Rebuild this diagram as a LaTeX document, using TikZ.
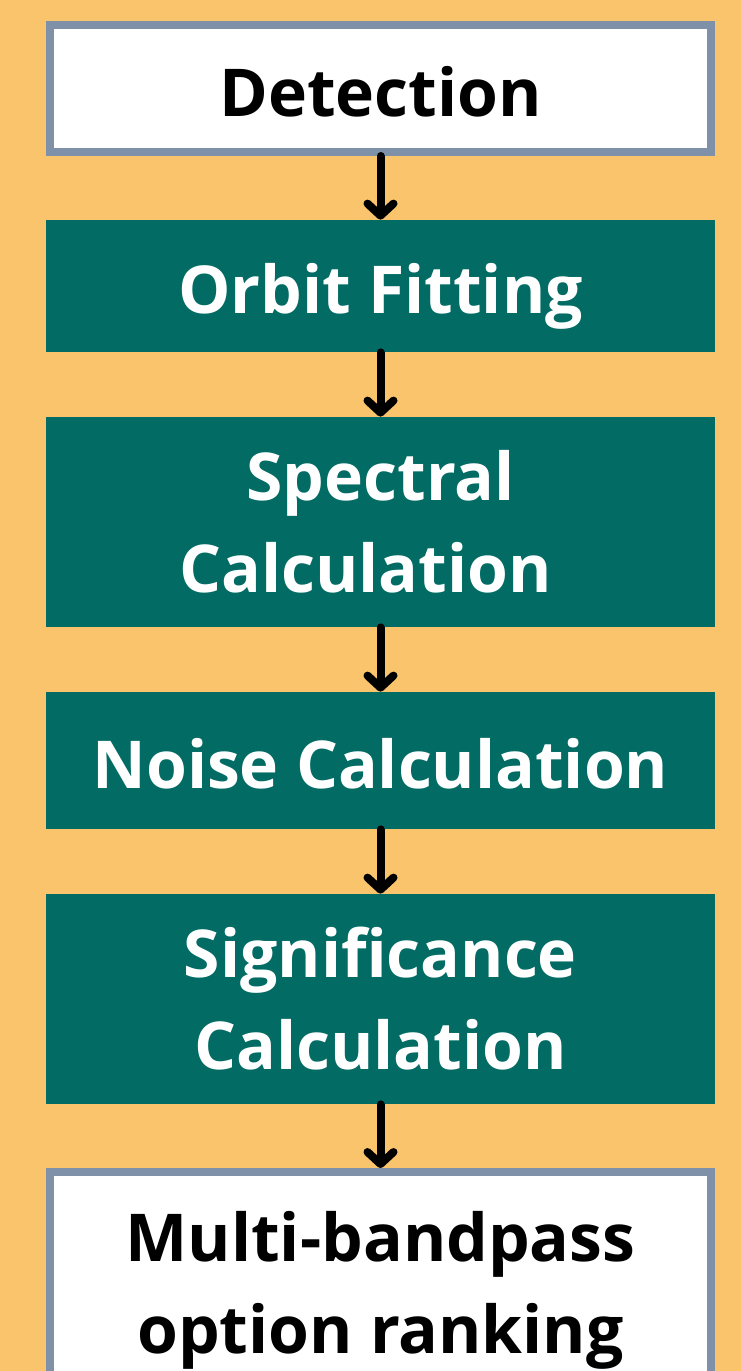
\documentclass[tikz,border=0pt]{standalone}
\usepackage{fontspec}
\setmainfont{Open Sans}
\usetikzlibrary{arrows.meta}
\definecolor{bgorange}{RGB}{249,196,108}
\definecolor{stageteal}{RGB}{1,107,100}
\definecolor{edgegray}{RGB}{127,145,168}
\begin{document}
\begin{tikzpicture}[x=1pt, y=-1pt, thick]
\tikzset{every node/.style={inner sep=0pt, align=center, font=\fontsize{66}{92}\selectfont\bfseries},
  oneline/.style={text height=55pt, text depth=0pt},
  stage/.style={fill=stageteal, text=white, minimum width=669pt},
  endstage/.style={fill=white, draw=edgegray, line width=8pt, text=black, minimum width=661pt},
  flow/.style={-{Straight Barb[round, length=12pt, width=26pt]}, line width=8pt, line cap=round}}
\fill[bgorange] (0,0) rectangle (741,1371);
\useasboundingbox (0,0) rectangle (741,1371);
\clip (0,0) rectangle (741,1371);
\node[endstage, oneline, minimum height=127pt] (det) at (380.5,88.5) {Detection};
\node[stage, oneline, minimum height=132pt] (orb) at (380.5,286) {Orbit Fitting};
\node[stage, minimum height=210pt] (spec) at (380.5,522) {Spectral\\Calculation\hspace{30pt}\mbox{}};
\node[stage, oneline, minimum height=137pt] (noise) at (380.5,760.5) {Noise Calculation};
\node[stage, minimum height=210pt] (sig) at (380.5,999) {Significance\\Calculation};
\node[endstage, minimum height=236pt] (rank) at (380.5,1290) {Multi-bandpass\\option ranking};
\draw[flow] (det) -- (orb);
\draw[flow] (orb) -- (spec);
\draw[flow] (spec) -- (noise);
\draw[flow] (noise) -- (sig);
\draw[flow] (sig) -- (rank);
\end{tikzpicture}
\end{document}
